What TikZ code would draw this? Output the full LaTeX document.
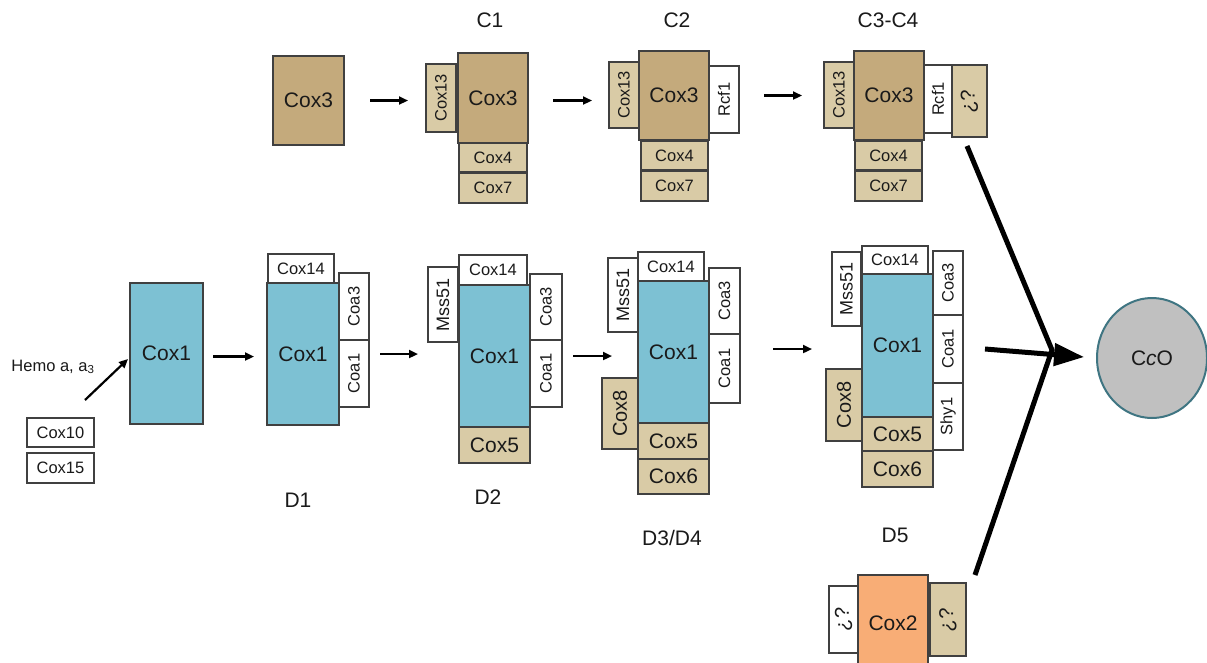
\documentclass[tikz,border=0pt]{standalone}
\usepackage{fontspec}
\setmainfont{Liberation Sans}
\usepackage{graphicx}
\usetikzlibrary{arrows.meta,shapes.geometric}
\definecolor{tanD}{HTML}{C4AA7C}
\definecolor{tanL}{HTML}{D9CBA6}
\definecolor{cblue}{HTML}{7DC1D3}
\definecolor{corange}{HTML}{F8AD76}
\definecolor{cgray}{HTML}{C0C0C0}
\definecolor{cedge}{HTML}{404040}
\definecolor{cteal}{HTML}{3F7582}
\definecolor{ctext}{HTML}{1A1A1A}
\newcommand\fs[1]{\fontsize{#1}{#1}\selectfont}
\newcommand\bx[7]{%
  \pgfmathsetmacro\bxw{#4-#2}\pgfmathsetmacro\bxh{#5-#3}%
  \node[bx,#6,minimum width=\bxw pt,minimum height=\bxh pt] (#1) at ({(#2+#4)/2},{(#3+#5)/2}) {#7};}
\newcommand\ru[1]{\rotatebox{90}{#1}}
\newcommand\rd[1]{\rotatebox{-90}{#1}}
\begin{document}
\begin{tikzpicture}[x=1pt,y=-1pt,
  bx/.style={draw=cedge,line width=1.3pt,inner sep=0pt,outer sep=0pt,text=ctext,font=\fs{16.5},fill=white},
  dk/.style={fill=tanD,font=\fs{21}},
  lt/.style={fill=tanL},
  bl/.style={fill=cblue,font=\fs{21}},
  mss/.style={font=\fs{18}},
  lab/.style={font=\fs{21},text=ctext,inner sep=0pt},
  arr/.style={line width=2.2pt,-{Triangle[length=9pt,width=8pt]}},
  thick line/.style={line width=5pt},
]
\useasboundingbox (0,0) rectangle (1207,662);
\fill[white] (0,0) rectangle (1207,662);

% ---- top row ----
\bx{s3}{273}{56}{344}{145}{dk}{Cox3}

\bx{c1a}{426}{64}{456}{132}{lt}{\ru{Cox13}}
\bx{c1c}{459}{143}{527}{172}{lt}{Cox4}
\bx{c1d}{459}{173}{527}{203}{lt}{Cox7}
\bx{c1b}{458}{53}{528}{143}{dk}{Cox3}
\node[lab] (lc1) at (490,20) {C1};

\bx{c2a}{609}{62}{639}{128}{lt}{\ru{Cox13}}
\bx{c2r}{709}{66}{739}{133}{}{\ru{Rcf1}}
\bx{c2c}{641}{141}{708}{170}{lt}{Cox4}
\bx{c2d}{641}{171}{708}{201}{lt}{Cox7}
\bx{c2b}{639}{51}{709}{140}{dk}{Cox3}
\node[lab] (lc2) at (677,20) {C2};

\bx{c3a}{824}{62}{854}{128}{lt}{\ru{Cox13}}
\bx{c3r}{924}{65}{952}{133}{}{\ru{Rcf1}}
\bx{c3q}{952}{65}{987}{137}{lt,font=\fs{20}}{\rd{¿?}}
\bx{c3c}{855}{141}{922}{170}{lt}{Cox4}
\bx{c3d}{855}{171}{922}{201}{lt}{Cox7}
\bx{c3b}{854}{51}{924}{140}{dk}{Cox3}
\node[lab] (lc3) at (888,20) {C3-C4};

\draw[arr,shorten <=26pt,shorten >=18pt] (s3.east) -- (s3.east -| c1a.west);
\draw[arr,shorten <=25pt,shorten >=17pt] (c1b.east |- s3.east) -- (s3.east -| c2a.west);
\draw[arr,shorten <=25pt,shorten >=22pt] (c2r.east |- c2b.east) -- (c2b.east -| c3a.west);

% ---- bottom row ----
\node[font=\fs{16.5},text=ctext,inner sep=0pt] (hemo) at (53,367) {Hemo a, a\textsubscript{3}};
\bx{c10}{27}{418}{94}{447}{}{Cox10}
\bx{c15}{27}{453}{94}{483}{}{Cox15}
\bx{k1}{130}{283}{203}{424}{bl}{Cox1}
\coordinate (hs) at (85,400);
\coordinate (he) at (128,359);
\draw[arr] (hs) -- (he);

% D1
\bx{d1t}{268}{254}{334}{283}{}{Cox14}
\bx{d1b}{267}{283}{339}{425}{bl}{Cox1}
\bx{d1c3}{339}{273}{369}{340}{}{\ru{Coa3}}
\bx{d1c1}{339}{340}{369}{407}{}{\ru{Coa1}}
\node[lab] (ld1) at (298,500) {D1};
\draw[arr,shorten <=10pt,shorten >=13pt] (k1.east) ++(0,3) coordinate (k1e) (k1e) -- (k1e -| d1b.west);

% D2
\bx{d2m}{428}{267}{458}{342}{mss}{\ru{Mss51}}
\bx{d2t}{459}{255}{527}{285}{}{Cox14}
\bx{d2c3}{530}{274}{562}{340}{}{\ru{Coa3}}
\bx{d2c1}{530}{340}{562}{407}{}{\ru{Coa1}}
\bx{d2c5}{459}{427}{530}{463}{lt,font=\fs{21}}{Cox5}
\bx{d2b}{459}{285}{530}{427}{bl}{Cox1}
\node[lab] (ld2) at (488,497) {D2};
\draw[arr,shorten <=11pt,shorten >=41pt] (d1c1.east |- d1b.east) -- (d2b.west |- d1b.east);

% D3/D4
\bx{d3m}{608}{258}{638}{332}{mss}{\ru{Mss51}}
\bx{d3t}{638}{252}{704}{281}{}{Cox14}
\bx{d3c3}{709}{268}{740}{334}{}{\ru{Coa3}}
\bx{d3c1}{709}{334}{740}{403}{}{\ru{Coa1}}
\bx{d3c8}{602}{378}{638}{449}{lt,font=\fs{20}}{\ru{Cox8}}
\bx{d3c5}{638}{423}{709}{459}{lt,font=\fs{21}}{Cox5}
\bx{d3c6}{638}{459}{709}{494}{lt,font=\fs{21}}{Cox6}
\bx{d3b}{638}{281}{709}{423}{bl}{Cox1}
\node[lab] (ld3) at (672,538) {D3/D4};
\draw[arr,shorten <=11pt,shorten >=26pt] (d2c1.east |- d2b.east) -- (d3b.west |- d2b.east);

% D5
\bx{d5m}{832}{252}{861}{326}{mss}{\ru{Mss51}}
\bx{d5t}{862}{246}{928}{274}{}{Cox14}
\bx{d5c3}{933}{251}{963}{315}{}{\ru{Coa3}}
\bx{d5c1}{933}{315}{963}{383}{}{\ru{Coa1}}
\bx{d5s}{933}{383}{963}{450}{}{\ru{Shy1}}
\bx{d5c8}{826}{369}{862}{441}{lt,font=\fs{20}}{\ru{Cox8}}
\bx{d5c5}{862}{417}{933}{451}{lt,font=\fs{21}}{Cox5}
\bx{d5c6}{862}{451}{933}{487}{lt,font=\fs{21}}{Cox6}
\bx{d5b}{862}{274}{933}{417}{bl}{Cox1}
\node[lab] (ld5) at (895,535) {D5};
\draw[arr,shorten <=33pt,shorten >=50pt] (d3c1.east |- d3b.east) ++(0,-3) coordinate (d3e) (d3e) -- (d3e -| d5b.west);

% Cox2 group
\bx{e1}{829}{586}{858}{653}{font=\fs{20}}{\ru{¿?}}
\bx{e3}{930}{583}{966}{656}{lt,font=\fs{20}}{\rd{¿?}}
\bx{e2}{858}{575}{928}{672}{fill=corange,font=\fs{21}}{Cox2}

% CcO
\node[ellipse,draw=cteal,line width=2pt,fill=cgray,minimum width=110pt,minimum height=120pt,inner sep=0pt,font=\fs{21},text=ctext] (cco) at (1152,358) {C\textit{c}O};

\coordinate (u1) at (967,146);
\coordinate (u2) at (975,575);
\coordinate (j) at (1052,350);
\coordinate (h0) at (985,349);
\draw[thick line] (u1) -- (j) -- (u2);
\draw[thick line,-{Triangle[length=30pt,width=22pt]},shorten >=12pt] (h0) -- (cco.west);
\end{tikzpicture}
\end{document}
